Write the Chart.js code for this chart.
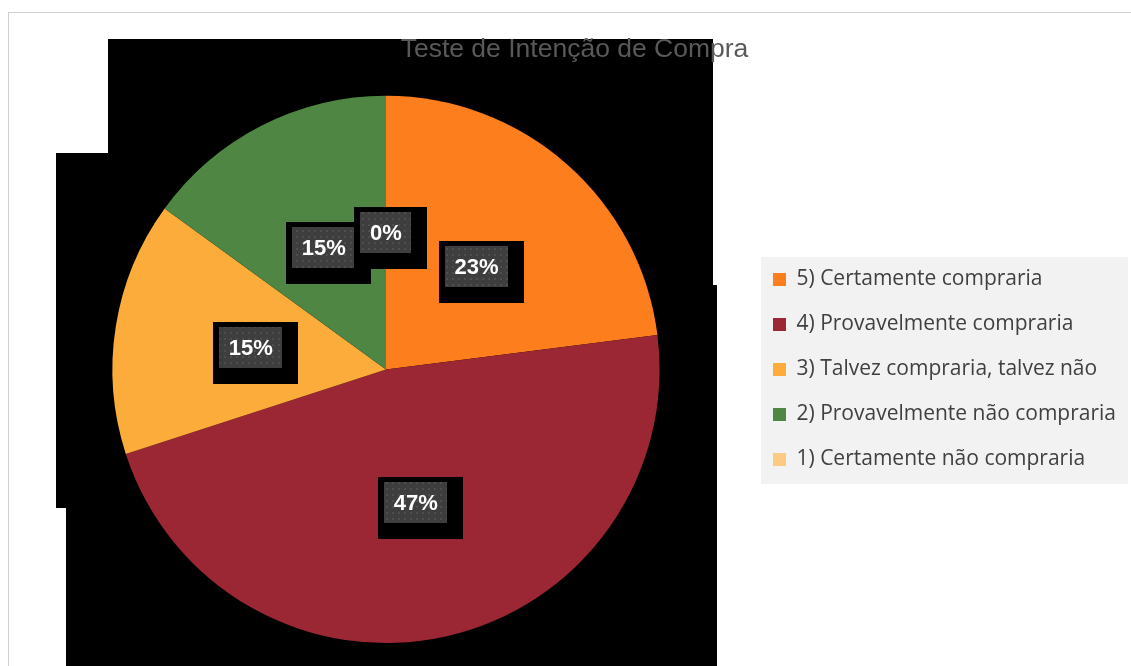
<!DOCTYPE html>
<html>
<head>
<meta charset="utf-8">
<script src="https://cdn.jsdelivr.net/npm/chart.js@4.4.1/dist/chart.umd.min.js"></script>
<style>
  html, body { margin: 0; padding: 0; background: #fff; overflow: hidden; }
  #frame { position: absolute; left: 8px; top: 12px; width: 1200px; height: 700px;
           border-left: 1px solid #d0d0d0; border-top: 1px solid #d0d0d0; }
  #myChart { position: absolute; left: 0; top: 0; }
</style>
</head>
<body>
<div id="frame"></div>
<canvas id="myChart" width="1131" height="666"></canvas>
<script>
// chart data
const categories = [
    '5) Certamente compraria',
    '4) Provavelmente compraria',
    '3) Talvez compraria, talvez não',
    '2) Provavelmente não compraria',
    '1) Certamente não compraria'
];
const shares = [23, 47, 15, 15, 0];
const sliceColors = ['#fd7e1c', '#9a2733', '#fbac3b', '#4f8643', '#fdca84'];
const chartTitle = 'Teste de Intenção de Compra';

// small dotted fill used behind the data labels
function makeDotPattern(ctx) {
    const c = document.createElement('canvas');
    c.width = 6; c.height = 6;
    const p = c.getContext('2d');
    p.fillStyle = '#3e3e3e';
    p.fillRect(0, 0, 6, 6);
    p.fillStyle = '#4e4e4e';
    p.fillRect(2, 2, 2, 2);
    return ctx.createPattern(c, 'repeat');
}

// black blocks behind the pie + grey legend panel
const backdropPlugin = {
    id: 'backdrop',
    beforeDraw(chart) {
        const ctx = chart.ctx;
        ctx.save();
        ctx.fillStyle = '#000';
        ctx.fillRect(108, 39, 605, 114);
        ctx.fillRect(56, 153, 657, 132);
        ctx.fillRect(56, 285, 661, 223);
        ctx.fillRect(66, 508, 651, 160);

        const boxes = chart.legend.legendHitBoxes;
        if (boxes && boxes.length) {
            const first = boxes[0];
            const last = boxes[boxes.length - 1];
            let right = 0;
            boxes.forEach(b => { right = Math.max(right, b.left + b.width); });
            ctx.fillStyle = '#f2f2f2';
            ctx.fillRect(first.left - 12, first.top - 12, right - first.left + 24, last.top + last.height - first.top + 26);
        }
        ctx.restore();
    }
};

const dataLabelPlugin = {
    id: 'sliceLabels',
    afterDatasetsDraw(chart) {
        const ctx = chart.ctx;
        const meta = chart.getDatasetMeta(0);
        const pattern = makeDotPattern(ctx);
        ctx.save();
        ctx.font = 'bold 22px "Liberation Sans"';
        ctx.textAlign = 'center';
        ctx.textBaseline = 'middle';
        meta.data.forEach((arc, i) => {
            const pos = arc.tooltipPosition();
            const text = shares[i] + '%';
            const w = Math.round(ctx.measureText(text).width + 19);
            const h = 41;
            const gx = Math.round(pos.x - w / 2);
            const gy = Math.round(pos.y - h / 2);
            ctx.fillStyle = '#000';
            ctx.fillRect(gx - 6, gy - 5, w + 22, h + 21);
            ctx.fillStyle = pattern;
            ctx.fillRect(gx, gy, w, h);
            ctx.fillStyle = '#fff';
            ctx.fillText(text, pos.x, pos.y + 1);
        });
        ctx.restore();
    }
};

const ctx = document.getElementById('myChart').getContext('2d');
window.myChart = new Chart(ctx, {
    type: 'pie',
    data: {
        labels: categories,
        datasets: [{
            data: shares,
            backgroundColor: sliceColors,
            borderWidth: 0
        }]
    },
    options: {
        responsive: false,
        animation: false,
        layout: {
            padding: { left: 23, right: 5, top: 0, bottom: 23 }
        },
        plugins: {
            title: {
                display: true,
                text: chartTitle,
                color: '#595959',
                font: { family: '"Liberation Sans", Arial', size: 26.5, weight: 'normal' },
                padding: { top: 34, bottom: 30 }
            },
            legend: {
                position: 'right',
                align: 'center',
                fullSize: false,
                labels: {
                    boxWidth: 13,
                    boxHeight: 13,
                    padding: 24,
                    color: '#404040',
                    font: { family: '"Open Sans"', size: 21 }
                }
            },
            tooltip: { enabled: false }
        }
    },
    plugins: [backdropPlugin, dataLabelPlugin]
});
</script>
</body>
</html>
